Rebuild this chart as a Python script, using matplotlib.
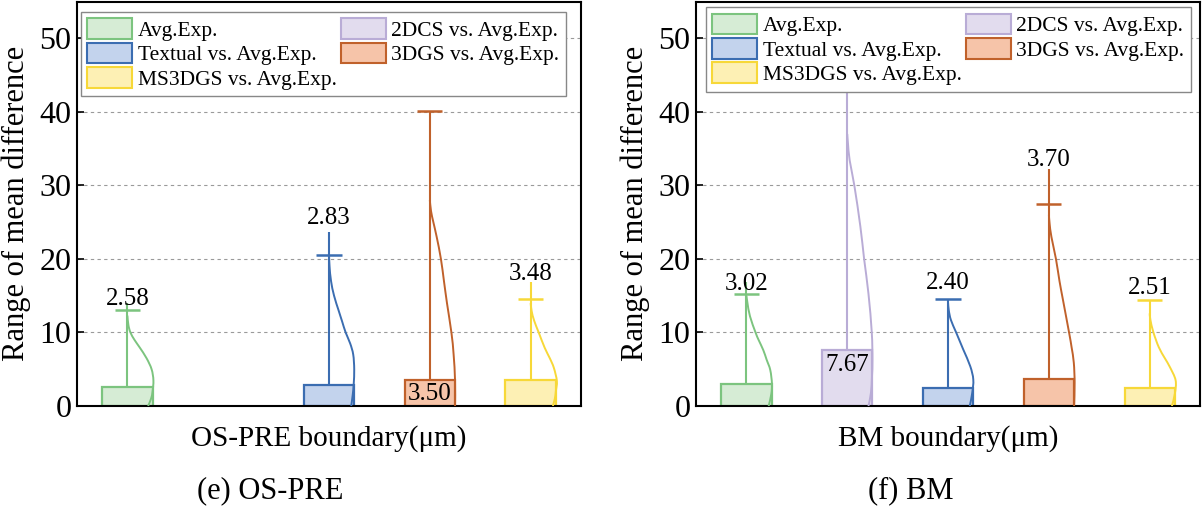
import numpy as np
import matplotlib
matplotlib.use("Agg")
from matplotlib import pyplot as plt
from matplotlib.patches import Patch, PathPatch
from matplotlib.path import Path

plt.rcParams['font.family'] = ['Liberation Serif', 'DejaVu Serif']

groups = ['Avg.Exp.', '2DCS vs. Avg.Exp.', 'Textual vs. Avg.Exp.',
          '3DGS vs. Avg.Exp.', 'MS3DGS vs. Avg.Exp.']
edge_cols = ['#7cc47f', '#b9acd6', '#3b6db1', '#c0612b', '#f7d838']
fill_cols = ['#d6ecd5', '#e2dcee', '#c3d3ed', '#f6c4a9', '#fdf0b4']

# OS-PRE panel (2DCS has no data here)
ospre_mean = [2.58, None, 2.83, 3.50, 3.48]
ospre_cap = [13.0, None, 20.5, 40.1, 14.6]
ospre_max = [14.0, None, 23.6, 40.1, 16.8]
ospre_label_y = [13.7, None, 24.8, 1.6, 17.1]
ospre_kde_y = [
    [0, 1, 2, 3.5, 5, 6.5, 8, 9, 10, 11, 12.3],
    None,
    [0, 1.5, 3, 5, 7, 8.5, 10, 11.5, 13, 15, 17, 19, 20.5],
    [0, 3.5, 7, 10, 14, 17, 20, 23, 25, 26.5, 28],
    [0, 1, 2, 3.4, 5.2, 6.5, 7.9, 10, 11.6, 12.9, 14],
]
ospre_kde_w = [
    [0.205, 0.235, 0.25, 0.258, 0.24, 0.19, 0.12, 0.07, 0.03, 0.01, 0],
    None,
    [0.22, 0.235, 0.245, 0.25, 0.24, 0.21, 0.165, 0.13, 0.095, 0.05, 0.02, 0.005, 0],
    [0.25, 0.25, 0.236, 0.214, 0.17, 0.14, 0.11, 0.068, 0.035, 0.012, 0],
    [0.22, 0.24, 0.25, 0.26, 0.23, 0.19, 0.14, 0.08, 0.035, 0.01, 0],
]

# BM panel
bm_mean = [3.02, 7.67, 2.40, 3.70, 2.51]
bm_cap = [15.2, 46.0, 14.5, 27.5, 14.4]
bm_max = [16.8, 48.0, 14.5, 32.3, 14.4]
bm_label_y = [15.8, 5.6, 15.9, 32.7, 15.2]
bm_kde_y = [
    [0, 1.65, 3, 4.9, 6.3, 7.6, 9, 10, 12.2, 14, 15],
    [0, 1.8, 4, 6.3, 10, 15.3, 20, 24.4, 30, 33.4, 35.7, 37],
    [0, 1.8, 3.6, 5.4, 7.7, 10, 11.7, 13, 14],
    [0, 3.2, 5.9, 8, 10, 14.4, 17, 20, 23, 24.8, 26],
    [0, 1.7, 3.5, 5.3, 6.5, 8, 10, 11.7, 12.6],
]
bm_kde_w = [
    [0.22, 0.247, 0.253, 0.236, 0.2, 0.167, 0.12, 0.09, 0.035, 0.01, 0],
    [0.21, 0.235, 0.245, 0.25, 0.243, 0.21, 0.167, 0.13, 0.07, 0.024, 0.007, 0],
    [0.215, 0.24, 0.25, 0.22, 0.15, 0.08, 0.028, 0.007, 0],
    [0.25, 0.255, 0.247, 0.225, 0.2, 0.14, 0.105, 0.07, 0.025, 0.007, 0],
    [0.22, 0.25, 0.257, 0.2, 0.15, 0.09, 0.037, 0.007, 0],
]


def smooth_curve(xs, ys):
    # cubic bezier through the read points (catmull-rom style handles)
    pts = np.column_stack([xs, ys])
    verts = [pts[0]]
    codes = [Path.MOVETO]
    n = len(pts)
    for i in range(n - 1):
        p0 = pts[i - 1] if i > 0 else pts[i]
        p1, p2 = pts[i], pts[i + 1]
        p3 = pts[i + 2] if i + 2 < n else pts[i + 1]
        verts += [p1 + (p2 - p0) / 6, p2 - (p3 - p1) / 6, p2]
        codes += [Path.CURVE4] * 3
    return Path(verts, codes)


def draw_panel(ax, means, caps, maxs, label_y, kde_y, kde_w, xlabel, leg_xy):
    x = np.arange(len(groups))
    for i in range(len(groups)):
        if means[i] is None:
            continue
        ax.bar(x[i], means[i], width=0.5, color=fill_cols[i],
               edgecolor=edge_cols[i], linewidth=1.6, zorder=2)
        ax.vlines(x[i], means[i], maxs[i], color=edge_cols[i], lw=1.5, zorder=3)
        ax.hlines(caps[i], x[i] - 0.125, x[i] + 0.125, color=edge_cols[i], lw=1.8, zorder=3)
        p = smooth_curve(x[i] + np.array(kde_w[i]), np.array(kde_y[i], dtype=float))
        ax.add_patch(PathPatch(p, facecolor='none', edgecolor=edge_cols[i], lw=1.4, zorder=3))
        va = 'center' if label_y[i] < means[i] else 'baseline'
        ax.text(x[i], label_y[i], f'{means[i]:.2f}', ha='center', va=va,
                fontsize=18, zorder=4)

    ax.set_xlim(-0.5, 4.5)
    ax.set_ylim(0, 55)
    ax.set_yticks([0, 10, 20, 30, 40, 50])
    ax.set_xticks([])
    ax.tick_params(axis='y', direction='in', length=5, width=1.2, labelsize=23, pad=4)
    ax.yaxis.grid(True, linestyle=(0, (3, 3)), color='#9a9a9a', lw=0.8)
    ax.set_axisbelow(True)
    for s in ax.spines.values():
        s.set_linewidth(1.5)
    ax.set_ylabel('Range of mean difference', fontsize=22, labelpad=6)
    ax.set_xlabel(xlabel, fontsize=21, labelpad=14)

    order = [0, 2, 4, 1, 3]
    handles = [Patch(facecolor=fill_cols[k], edgecolor=edge_cols[k], linewidth=1.5) for k in order]
    labels = [groups[k] for k in order]
    leg = ax.legend(handles, labels, ncol=2, loc='upper left', bbox_to_anchor=leg_xy,
                    fontsize=15.5, handlelength=2.1, handleheight=1.1, handletextpad=0.25,
                    columnspacing=0.2, labelspacing=0.08, borderpad=0.3,
                    fancybox=False, edgecolor='#888888', framealpha=1, borderaxespad=0)
    leg.get_frame().set_linewidth(1.0)
    leg.set_zorder(10)


fig = plt.figure(figsize=(12.03, 5.08), dpi=100)
ax1 = fig.add_axes([0.064, 0.2008, 0.419, 0.796])
ax2 = fig.add_axes([0.5786, 0.2008, 0.419, 0.796])

draw_panel(ax1, ospre_mean, ospre_cap, ospre_max, ospre_label_y, ospre_kde_y, ospre_kde_w,
           'OS-PRE boundary(μm)', (0.007, 0.975))
draw_panel(ax2, bm_mean, bm_cap, bm_max, bm_label_y, bm_kde_y, bm_kde_w,
           'BM boundary(μm)', (0.019, 0.986))

fig.text(0.225, 0.035, '(e) OS-PRE', ha='center', va='center', fontsize=22)
fig.text(0.757, 0.035, '(f) BM', ha='center', va='center', fontsize=22)

fig.savefig('out.png', dpi=100)
